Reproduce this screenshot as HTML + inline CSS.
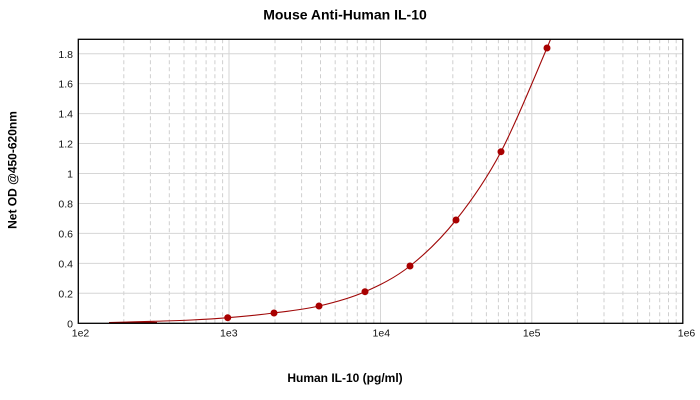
<!DOCTYPE html>
<html>
<head>
<meta charset="utf-8">
<style>
  html, body { margin: 0; padding: 0; background: #ffffff; }
  body { width: 700px; height: 400px; overflow: hidden; }
  svg { display: block; }
  .tick { font-family: "Liberation Sans", Arial, sans-serif; font-size: 10.5px; fill: #111; }
  .ttl { font-family: "Liberation Sans", Arial, sans-serif; font-weight: bold; fill: #000; }
</style>
</head>
<body>
<svg width="700" height="400" viewBox="0 0 700 400" xmlns="http://www.w3.org/2000/svg">
  <rect x="0" y="0" width="700" height="400" fill="#ffffff"/>

  <!-- minor vertical grid (dashed) -->
  <g stroke="#cfcfcf" stroke-width="1" stroke-dasharray="4,3" fill="none">
    <line x1="123.8" y1="39.3" x2="123.8" y2="323.3"/>
    <line x1="150.4" y1="39.3" x2="150.4" y2="323.3"/>
    <line x1="169.3" y1="39.3" x2="169.3" y2="323.3"/>
    <line x1="184.0" y1="39.3" x2="184.0" y2="323.3"/>
    <line x1="196.0" y1="39.3" x2="196.0" y2="323.3"/>
    <line x1="206.1" y1="39.3" x2="206.1" y2="323.3"/>
    <line x1="214.9" y1="39.3" x2="214.9" y2="323.3"/>
    <line x1="222.6" y1="39.3" x2="222.6" y2="323.3"/>

    <line x1="275.0" y1="39.3" x2="275.0" y2="323.3"/>
    <line x1="301.6" y1="39.3" x2="301.6" y2="323.3"/>
    <line x1="320.5" y1="39.3" x2="320.5" y2="323.3"/>
    <line x1="335.2" y1="39.3" x2="335.2" y2="323.3"/>
    <line x1="347.2" y1="39.3" x2="347.2" y2="323.3"/>
    <line x1="357.3" y1="39.3" x2="357.3" y2="323.3"/>
    <line x1="366.1" y1="39.3" x2="366.1" y2="323.3"/>
    <line x1="373.8" y1="39.3" x2="373.8" y2="323.3"/>

    <line x1="426.2" y1="39.3" x2="426.2" y2="323.3"/>
    <line x1="452.8" y1="39.3" x2="452.8" y2="323.3"/>
    <line x1="471.7" y1="39.3" x2="471.7" y2="323.3"/>
    <line x1="486.4" y1="39.3" x2="486.4" y2="323.3"/>
    <line x1="498.4" y1="39.3" x2="498.4" y2="323.3"/>
    <line x1="508.5" y1="39.3" x2="508.5" y2="323.3"/>
    <line x1="517.3" y1="39.3" x2="517.3" y2="323.3"/>
    <line x1="525.0" y1="39.3" x2="525.0" y2="323.3"/>

    <line x1="577.4" y1="39.3" x2="577.4" y2="323.3"/>
    <line x1="604.0" y1="39.3" x2="604.0" y2="323.3"/>
    <line x1="622.9" y1="39.3" x2="622.9" y2="323.3"/>
    <line x1="637.6" y1="39.3" x2="637.6" y2="323.3"/>
    <line x1="649.6" y1="39.3" x2="649.6" y2="323.3"/>
    <line x1="659.7" y1="39.3" x2="659.7" y2="323.3"/>
    <line x1="668.5" y1="39.3" x2="668.5" y2="323.3"/>
    <line x1="676.2" y1="39.3" x2="676.2" y2="323.3"/>
  </g>

  <!-- major grid (solid) -->
  <g stroke="#d6d6d6" stroke-width="1" fill="none">
    <line x1="229.0" y1="39.3" x2="229.0" y2="323.3"/>
    <line x1="380.5" y1="39.3" x2="380.5" y2="323.3"/>
    <line x1="531.8" y1="39.3" x2="531.8" y2="323.3"/>

    <line x1="78.3" y1="293.3" x2="683" y2="293.3"/>
    <line x1="78.3" y1="263.4" x2="683" y2="263.4"/>
    <line x1="78.3" y1="233.4" x2="683" y2="233.4"/>
    <line x1="78.3" y1="203.5" x2="683" y2="203.5"/>
    <line x1="78.3" y1="173.5" x2="683" y2="173.5"/>
    <line x1="78.3" y1="143.5" x2="683" y2="143.5"/>
    <line x1="78.3" y1="113.6" x2="683" y2="113.6"/>
    <line x1="78.3" y1="83.6" x2="683" y2="83.6"/>
    <line x1="78.3" y1="53.7" x2="683" y2="53.7"/>
  </g>

  <!-- fitted curve -->
  <defs>
    <clipPath id="plotclip">
      <rect x="78.3" y="39.3" width="604.7" height="284"/>
    </clipPath>
  </defs>
  <path clip-path="url(#plotclip)" fill="none" stroke="#a00808" stroke-width="1.1"
    d="M109,322.6
       C116.5,322.4 140.05,321.73 153.8,321.3
       C167.55,320.87 179.18,320.6 191.5,320.0
       C203.82,319.4 213.95,318.87 227.7,317.7
       C241.45,316.53 258.78,314.95 274,313
       C289.22,311.05 303.83,309.55 319,306
       C334.17,302.45 349.83,298.37 365,291.7
       C380.17,285.03 394.83,277.95 410,266
       C425.17,254.05 440.83,239.05 456,220
       C471.17,200.95 485.83,180.37 501,151.7
       C516.17,123.03 538.73,66.73 547,48
       L551.5,37"/>
  <line x1="109" y1="322.8" x2="157" y2="322.6" stroke="#8a0000" stroke-width="1.4"/>

  <!-- data points -->
  <g fill="#a80000">
    <circle cx="227.7" cy="317.7" r="3.5"/>
    <circle cx="274" cy="313" r="3.5"/>
    <circle cx="319" cy="306" r="3.5"/>
    <circle cx="365" cy="291.7" r="3.5"/>
    <circle cx="410" cy="266" r="3.5"/>
    <circle cx="456" cy="220" r="3.5"/>
    <circle cx="501" cy="151.7" r="3.5"/>
    <circle cx="547" cy="48" r="3.5"/>
  </g>

  <!-- plot border -->
  <rect x="78.3" y="39.3" width="604.5" height="284" fill="none" stroke="#000" stroke-width="1.3"/>

  <!-- y tick labels -->
  <g class="tick" text-anchor="end">
    <text x="73" y="327.5">0</text>
    <text x="73" y="297.5">0.2</text>
    <text x="73" y="267.5">0.4</text>
    <text x="73" y="237.5">0.6</text>
    <text x="73" y="207.5">0.8</text>
    <text x="73" y="177.5">1</text>
    <text x="73" y="147.5">1.2</text>
    <text x="73" y="117.5">1.4</text>
    <text x="73" y="87.5">1.6</text>
    <text x="73" y="57.8">1.8</text>
  </g>

  <!-- x tick labels -->
  <g class="tick" text-anchor="middle">
    <text x="80.5" y="336.5">1e2</text>
    <text x="228.8" y="336.5">1e3</text>
    <text x="381.3" y="336.5">1e4</text>
    <text x="531.7" y="336.5">1e5</text>
    <text x="686.5" y="336.5">1e6</text>
  </g>

  <!-- titles -->
  <text class="ttl" x="345" y="19.7" font-size="14" text-anchor="middle">Mouse Anti-Human IL-10</text>
  <text class="ttl" x="345" y="382" font-size="12" text-anchor="middle">Human IL-10 (pg/ml)</text>
  <text class="ttl" x="0" y="0" font-size="12" text-anchor="middle" transform="translate(16.5,170) rotate(-90)">Net OD @450-620nm</text>
</svg>
</body>
</html>
